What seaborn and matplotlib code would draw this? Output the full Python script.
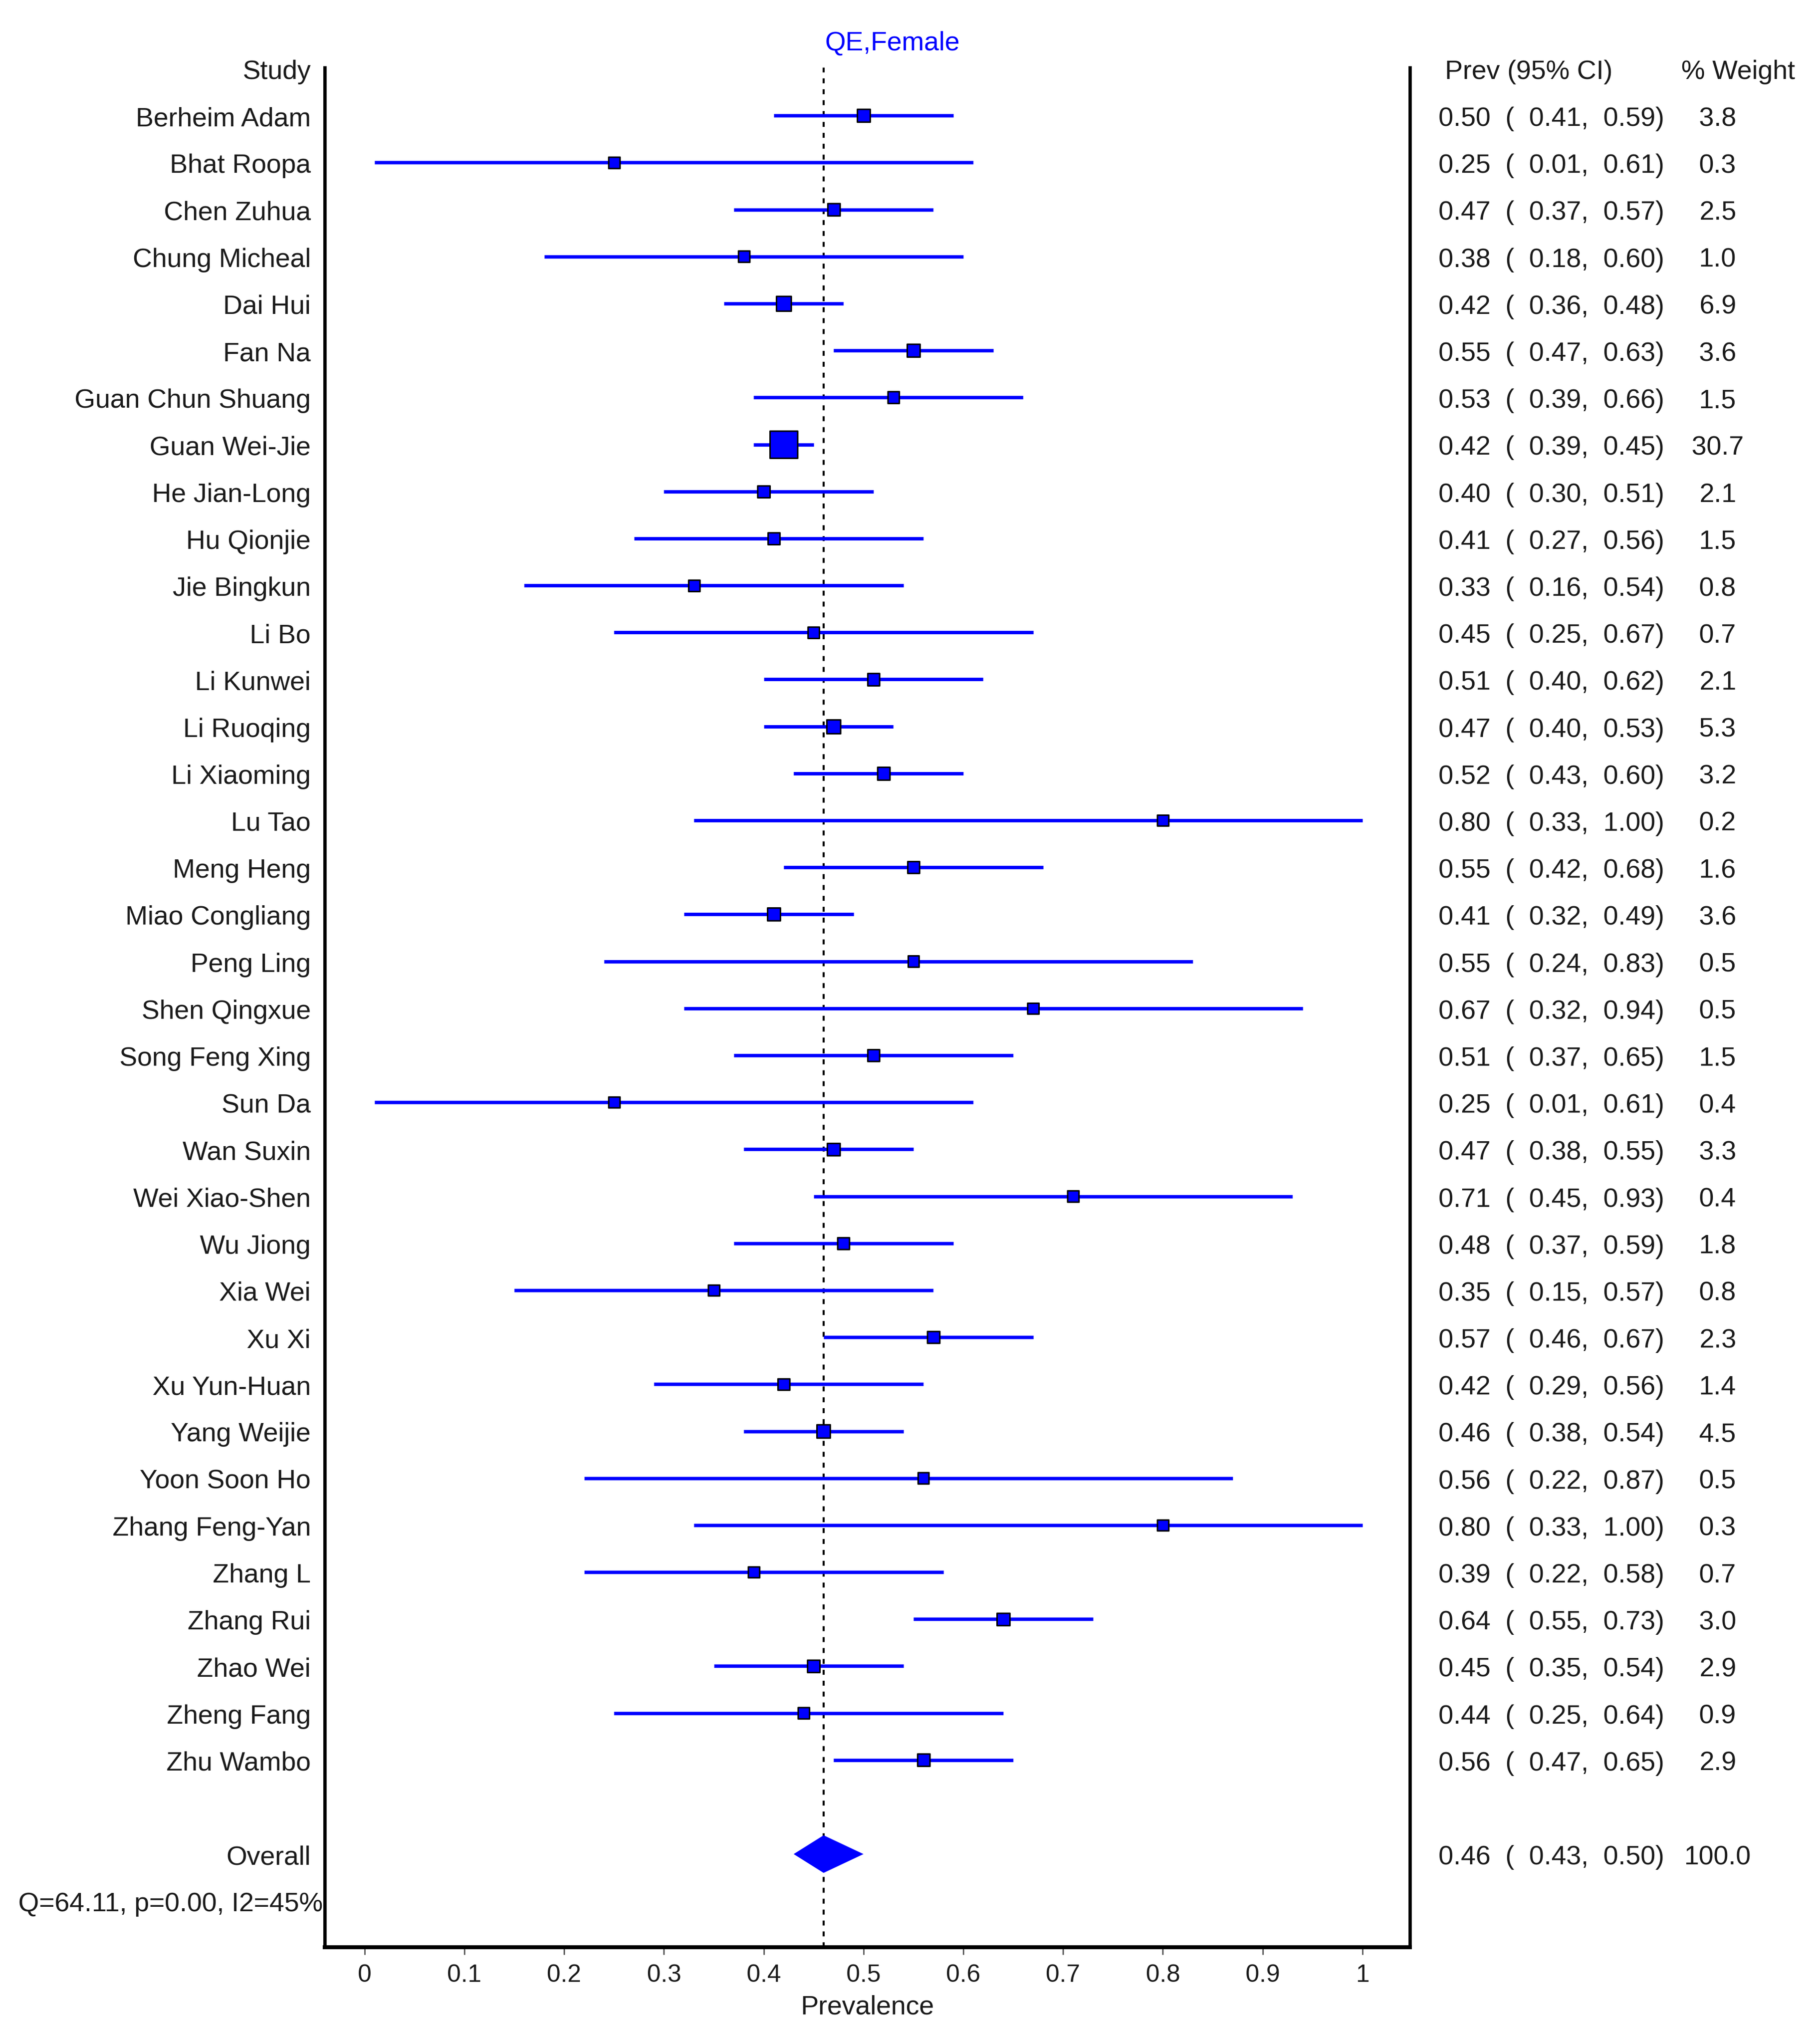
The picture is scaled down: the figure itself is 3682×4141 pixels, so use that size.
import numpy as np
import pandas as pd
import matplotlib
matplotlib.use("Agg")
import matplotlib.pyplot as plt
import seaborn as sns

studies = ["Berheim Adam", "Bhat Roopa", "Chen Zuhua", "Chung Micheal", "Dai Hui", "Fan Na",
           "Guan Chun Shuang", "Guan Wei-Jie", "He Jian-Long", "Hu Qionjie", "Jie Bingkun", "Li Bo",
           "Li Kunwei", "Li Ruoqing", "Li Xiaoming", "Lu Tao", "Meng Heng", "Miao Congliang",
           "Peng Ling", "Shen Qingxue", "Song Feng Xing", "Sun Da", "Wan Suxin", "Wei Xiao-Shen",
           "Wu Jiong", "Xia Wei", "Xu Xi", "Xu Yun-Huan", "Yang Weijie", "Yoon Soon Ho",
           "Zhang Feng-Yan", "Zhang L", "Zhang Rui", "Zhao Wei", "Zheng Fang", "Zhu Wambo"]
prev = [0.50, 0.25, 0.47, 0.38, 0.42, 0.55, 0.53, 0.42, 0.40, 0.41, 0.33, 0.45,
        0.51, 0.47, 0.52, 0.80, 0.55, 0.41, 0.55, 0.67, 0.51, 0.25, 0.47, 0.71,
        0.48, 0.35, 0.57, 0.42, 0.46, 0.56, 0.80, 0.39, 0.64, 0.45, 0.44, 0.56]
lower = [0.41, 0.01, 0.37, 0.18, 0.36, 0.47, 0.39, 0.39, 0.30, 0.27, 0.16, 0.25,
         0.40, 0.40, 0.43, 0.33, 0.42, 0.32, 0.24, 0.32, 0.37, 0.01, 0.38, 0.45,
         0.37, 0.15, 0.46, 0.29, 0.38, 0.22, 0.33, 0.22, 0.55, 0.35, 0.25, 0.47]
upper = [0.59, 0.61, 0.57, 0.60, 0.48, 0.63, 0.66, 0.45, 0.51, 0.56, 0.54, 0.67,
         0.62, 0.53, 0.60, 1.00, 0.68, 0.49, 0.83, 0.94, 0.65, 0.61, 0.55, 0.93,
         0.59, 0.57, 0.67, 0.56, 0.54, 0.87, 1.00, 0.58, 0.73, 0.54, 0.64, 0.65]
weight = [3.8, 0.3, 2.5, 1.0, 6.9, 3.6, 1.5, 30.7, 2.1, 1.5, 0.8, 0.7,
          2.1, 5.3, 3.2, 0.2, 1.6, 3.6, 0.5, 0.5, 1.5, 0.4, 3.3, 0.4,
          1.8, 0.8, 2.3, 1.4, 4.5, 0.5, 0.3, 0.7, 3.0, 2.9, 0.9, 2.9]
overall_label = "Overall"
overall_prev = 0.46
overall_lower = 0.43
overall_upper = 0.50
overall_weight = 100.0
het_text = "Q=64.11, p=0.00, I2=45%"
title = "QE,Female"
xlabel = "Prevalence"
xticks = [0, 0.1, 0.2, 0.3, 0.4, 0.5, 0.6, 0.7, 0.8, 0.9, 1.0]
xticklabels = ["0", "0.1", "0.2", "0.3", "0.4", "0.5", "0.6", "0.7", "0.8", "0.9", "1"]

df = pd.DataFrame({"study": studies, "prev": prev, "lower": lower,
                   "upper": upper, "weight": weight})
df["row"] = np.arange(len(df))
overall_row = len(df) + 1
het_row = len(df) + 2

sns.set_theme(style="white")
plt.rcParams["font.family"] = ["Liberation Sans", "DejaVu Sans"]

DPI = 200
fig = plt.figure(figsize=(3682 / DPI, 4141 / DPI), dpi=DPI)
ax = fig.add_axes([0.1787, 0.0474, 0.5972, 0.9195])

ax.set_xlim(-0.040, 1.0475)
ax.set_ylim(het_row + 0.98, -1.02)

# reference line at pooled estimate
ax.axvline(overall_prev, color="black", lw=1.5, ls=(0, (2.4, 2.9)), zorder=1)

# CI lines
ax.hlines(df["row"], df["lower"], df["upper"], color="#0000ff", lw=2.5, zorder=2)

# squares scaled by weight (side in px -> points)
side_pt = (22 + 1.1 * df["weight"]) / (DPI / 72)
sns.scatterplot(data=df, x="prev", y="row", marker="s", s=side_pt ** 2, color="#0000ff",
                edgecolor="black", linewidth=1.1, ax=ax, legend=False, zorder=3)

# overall diamond
dh = 0.40
ax.fill([overall_lower, overall_prev, overall_upper, overall_prev],
        [overall_row, overall_row - dh, overall_row, overall_row + dh],
        color="#0000ff", lw=0, zorder=3)

# spines
ax.spines["top"].set_visible(False)
for s in ["left", "right", "bottom"]:
    ax.spines[s].set_visible(True)
    ax.spines[s].set_color("black")
ax.spines["left"].set_linewidth(2.4)
ax.spines["right"].set_linewidth(2.4)
ax.spines["bottom"].set_linewidth(2.9)

ax.set_yticks([])
ax.set_xticks(xticks)
ax.set_xticklabels(xticklabels)
ax.tick_params(axis="x", direction="out", length=5.4, width=1.0, color="#555555",
               labelsize=18, labelcolor="#1a1a1a", pad=7, bottom=True)
ax.set_xlabel(xlabel, fontsize=19.5, color="#1a1a1a", labelpad=6)
ax.set_ylabel("")

fs = 19.5
tc = "#1a1a1a"
lab_x = -0.0539
prev_x = 1.0762
wt_x = 1.3561
bl = 0.22          # baseline offset (rows) so caps are centred on the row
hdr = -0.78        # header baseline row

txt = dict(fontsize=fs, color=tc, clip_on=False, va="baseline")
ax.text(lab_x, hdr, "Study", ha="right", **txt)
ax.text(1.0826, hdr, "Prev (95% CI)", ha="left", **txt)
ax.text(1.3195, hdr, "% Weight", ha="left", **txt)
ax.text(0.5287, -1.39, title, ha="center", va="baseline", fontsize=fs, color="#0000ff", clip_on=False)

for _, r in df.iterrows():
    y = r["row"] + bl
    ax.text(lab_x, y, r["study"], ha="right", **txt)
    ax.text(prev_x, y, f"{r['prev']:.2f}  (  {r['lower']:.2f},  {r['upper']:.2f})", ha="left", **txt)
    ax.text(wt_x, y, f"{r['weight']:.1f}", ha="center", **txt)

ax.text(lab_x, overall_row + bl, overall_label, ha="right", **txt)
ax.text(prev_x, overall_row + bl, f"{overall_prev:.2f}  (  {overall_lower:.2f},  {overall_upper:.2f})",
        ha="left", **txt)
ax.text(wt_x, overall_row + bl, f"{overall_weight:.1f}", ha="center", **txt)
ax.text(-0.347, het_row + bl, het_text, ha="left", **txt)

fig.savefig("out.png", dpi=DPI, facecolor="white")
